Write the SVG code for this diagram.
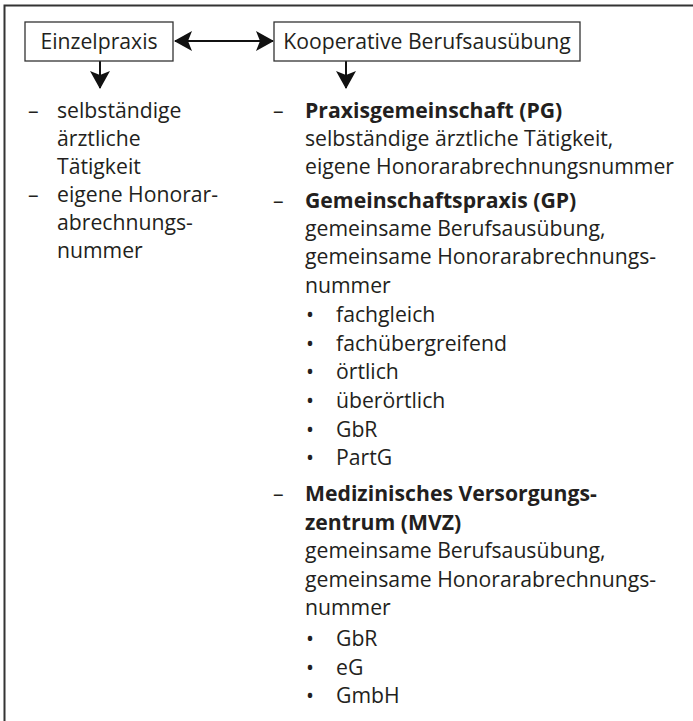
<svg xmlns="http://www.w3.org/2000/svg" width="693" height="721" viewBox="0 0 693 721">
<defs>
<marker id="ah" viewBox="0 0 18 20" refX="17" refY="10" markerWidth="18" markerHeight="20" markerUnits="userSpaceOnUse" orient="auto-start-reverse">
<path d="M0,0 L18,10 L0,20 L4,10 z" fill="#111"/>
</marker>
<style>
text{font-family:"Open Sans","Noto Sans",sans-serif;font-size:21.2px;fill:#231f20}
.b{font-weight:bold}
.box{fill:#fff;stroke:#333;stroke-width:1.3}
.frame{fill:none;stroke:#333;stroke-width:2}
.con{stroke:#111;stroke-width:2;fill:none}
</style>
</defs>
<rect width="693" height="721" fill="#fff"/>
<path class="frame" d="M4.5,721 V5.5 H693"/>
<g id="connectors">
<line class="con" x1="175" y1="41" x2="273" y2="41" marker-start="url(#ah)" marker-end="url(#ah)"/>
<line class="con" x1="100" y1="61" x2="100" y2="88" marker-end="url(#ah)"/>
<line class="con" x1="346" y1="61" x2="346" y2="88" marker-end="url(#ah)"/>
</g>
<g id="einzelpraxis">
<rect class="box" x="25" y="22" width="148" height="39"/>
<text x="99" y="49" text-anchor="middle">Einzelpraxis</text>
</g>
<g id="kooperative">
<rect class="box" x="274" y="22" width="306" height="39"/>
<text x="427" y="49" text-anchor="middle">Kooperative Berufsausübung</text>
</g>
<g id="einzel-list">
<text x="28" y="118">–</text>
<text x="57" y="118">selbständige</text>
<text x="57" y="146">ärztliche</text>
<text x="57" y="174">Tätigkeit</text>
<text x="28" y="202">–</text>
<text x="57" y="202">eigene Honorar-</text>
<text x="57" y="230">abrechnungs-</text>
<text x="57" y="258">nummer</text>
</g>
<g id="koop-list">
<text x="273" y="118">–</text>
<text x="305" y="118" class="b">Praxisgemeinschaft (PG)</text>
<text x="305" y="146">selbständige ärztliche Tätigkeit,</text>
<text x="305" y="174">eigene Honorarabrechnungsnummer</text>
<text x="273" y="208">–</text>
<text x="305" y="208" class="b">Gemeinschaftspraxis (GP)</text>
<text x="305" y="236">gemeinsame Berufsausübung,</text>
<text x="305" y="264">gemeinsame Honorarabrechnungs-</text>
<text x="305" y="293">nummer</text>
<text x="306" y="322">•</text><text x="336" y="322">fachgleich</text>
<text x="306" y="351">•</text><text x="336" y="351">fachübergreifend</text>
<text x="306" y="379">•</text><text x="336" y="379">örtlich</text>
<text x="306" y="408">•</text><text x="336" y="408">überörtlich</text>
<text x="306" y="437">•</text><text x="336" y="437">GbR</text>
<text x="306" y="465">•</text><text x="336" y="465">PartG</text>
<text x="273" y="501">–</text>
<text x="305" y="501" class="b">Medizinisches Versorgungs-</text>
<text x="305" y="530" class="b">zentrum (MVZ)</text>
<text x="305" y="558">gemeinsame Berufsausübung,</text>
<text x="305" y="587">gemeinsame Honorarabrechnungs-</text>
<text x="305" y="615">nummer</text>
<text x="306" y="646">•</text><text x="336" y="646">GbR</text>
<text x="306" y="675">•</text><text x="336" y="675">eG</text>
<text x="306" y="703">•</text><text x="336" y="703">GmbH</text>
</g>
</svg>
